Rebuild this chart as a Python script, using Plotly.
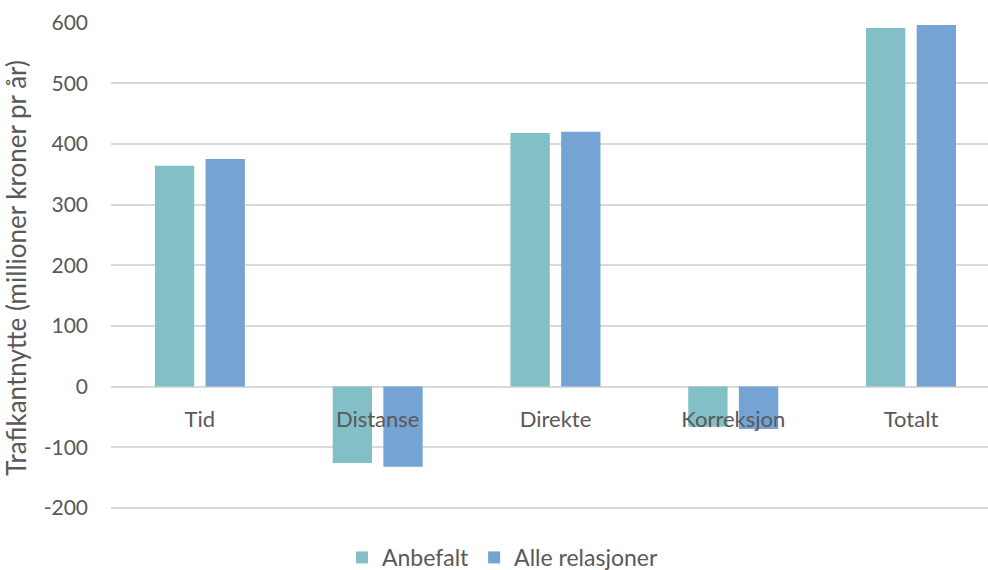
import plotly.graph_objects as go

categories = ["Tid", "Distanse", "Direkte", "Korreksjon", "Totalt"]
anbefalt = [364, -126, 418, -66, 591]
alle_relasjoner = [375, -132, 420, -70, 596]

series_names = ["Anbefalt", "Alle relasjoner"]
y_ticks = [-200, -100, 0, 100, 200, 300, 400, 500, 600]
y_tick_labels = ["-200", "-100", "0", "100", "200", "300", "400", "500", "600"]

FONT = "Lato"
TEXT = "#595959"
GRID = "#d9d9d9"

fig = go.Figure()
fig.add_trace(go.Bar(x=categories, y=anbefalt, name=series_names[0],
                     marker=dict(color="#83bfc6", line=dict(width=0))))
fig.add_trace(go.Bar(x=categories, y=alle_relasjoner, name=series_names[1],
                     marker=dict(color="#75a3d3", line=dict(width=0))))

y_min, y_max = -210, 601
fig.update_layout(
    width=988, height=570,
    margin=dict(l=111, r=0, t=22, b=56, autoexpand=False),
    paper_bgcolor="white", plot_bgcolor="white",
    font=dict(family=FONT, size=21, color=TEXT),
    barmode="group", bargap=0.43, bargroupgap=0.224,
    showlegend=True,
    legend=dict(orientation="h", x=0.4464, xanchor="center",
                yref="container", y=0.022, yanchor="middle",
                font=dict(family=FONT, size=23, color=TEXT),
                itemwidth=30, tracegroupgap=0),
    xaxis=dict(
        type="category", range=[-0.5, 4.433],
        anchor="free", position=(0 - y_min) / (y_max - y_min),
        showline=False, showgrid=False, zeroline=False,
        ticks="outside", ticklen=13, tickcolor="rgba(0,0,0,0)",
        tickfont=dict(family=FONT, size=22, color=TEXT),
    ),
    yaxis=dict(
        range=[y_min, y_max], tickvals=y_ticks, ticktext=y_tick_labels,
        showgrid=True, gridcolor=GRID, gridwidth=1.6,
        zeroline=True, zerolinecolor=GRID, zerolinewidth=1.6,
        showline=False, ticks="", ticklabelstandoff=22,
        tickfont=dict(family=FONT, size=21, color=TEXT),
        title=dict(text="Trafikantnytte (millioner kroner pr år)",
                   font=dict(family=FONT, size=26, color=TEXT), standoff=10),
    ),
)

fig.write_html("out.html")
